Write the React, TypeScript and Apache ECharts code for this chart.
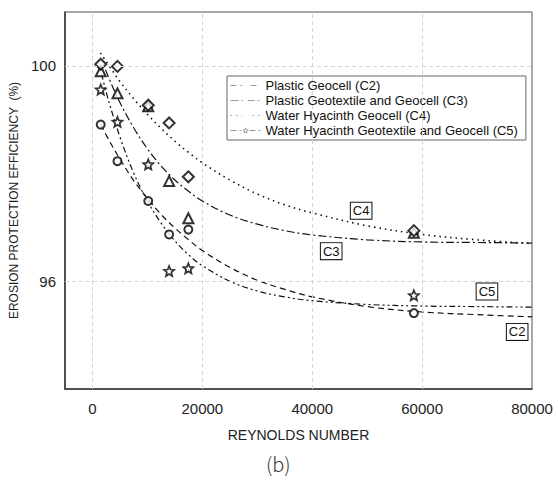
import React, { useEffect, useRef } from "react";
import * as echarts from "echarts";

// ---- data ----
const seriesNames = [
  "Plastic Geocell (C2)",
  "Plastic Geotextile and Geocell (C3)",
  "Water Hyacinth Geocell (C4)",
  "Water Hyacinth Geotextile and Geocell (C5)",
];
const curveLabels = ["C2", "C3", "C4", "C5"];

// measured points
const pointX = [1500, 4550, 10150, 13950, 17450, 58500];
const c2Points = [98.91, 98.23, 97.49, 96.87, 96.96, 95.41];
const c3Points = [99.9, 99.49, 99.25, 97.86, 97.17, 96.9];
const c4Points = [100.03, 99.99, 99.27, 98.94, 97.94, 96.94];
const c5Points = [99.56, 98.96, 98.17, 96.19, 96.24, 95.74];

// fitted trend curves
const c2Curve = [
  [1500, 98.91], [3000, 98.62], [5000, 98.27], [7500, 97.87], [10000, 97.54],
  [12500, 97.24], [15000, 96.99], [17500, 96.77], [20000, 96.57], [25000, 96.26],
  [30000, 96.02], [35000, 95.85], [40000, 95.71], [50000, 95.53], [60000, 95.43],
  [70000, 95.38], [80000, 95.34],
];
const c3Curve = [
  [2360, 99.93], [3500, 99.65], [5000, 99.32], [7500, 98.85], [10000, 98.46],
  [12500, 98.14], [15000, 97.88], [17500, 97.67], [20000, 97.49], [25000, 97.23],
  [30000, 97.06], [35000, 96.94], [40000, 96.86], [50000, 96.77], [60000, 96.73],
  [70000, 96.72], [80000, 96.71],
];
const c4Curve = [
  [1450, 100.24], [3500, 99.93], [5000, 99.71], [7500, 99.39], [10000, 99.1],
  [12500, 98.84], [15000, 98.6], [17500, 98.39], [20000, 98.2], [25000, 97.88],
  [30000, 97.62], [35000, 97.42], [40000, 97.27], [50000, 97.03], [60000, 96.87],
  [70000, 96.77], [80000, 96.7],
];
const c5Curve = [
  [1640, 99.85], [3000, 99.33], [5000, 98.68], [7500, 98.01], [10000, 97.49],
  [12500, 97.08], [15000, 96.75], [17500, 96.49], [20000, 96.29], [25000, 96.0],
  [30000, 95.82], [35000, 95.71], [40000, 95.64], [50000, 95.57], [60000, 95.54],
  [70000, 95.53], [80000, 95.52],
];
// label anchor positions (data coords)
const labelPos = [
  [77300, 95.06],
  [43450, 96.56],
  [48900, 97.31],
  [71800, 95.81],
];
const xTickLabels = [0, 20000, 40000, 60000, 80000];
const yTickLabels = [96, 100];
const xGridValues = [0, 20000, 40000, 60000];

const STAR =
  "path://M10 0 L12.64 6.36 L19.51 6.91 L14.28 11.39 L15.88 18.09 L10 14.5 L4.12 18.09 L5.72 11.39 L0.49 6.91 L7.36 6.36 Z";

export default function App() {
  const ref = useRef<HTMLDivElement>(null);
  useEffect(() => {
    if (!ref.current) return;
    const chart = echarts.init(ref.current, undefined, { renderer: "svg" });
    const font = "'Liberation Sans', Arial, sans-serif";
    const pointsAll = [c2Points, c3Points, c4Points, c5Points];
    const curvesAll = [c2Curve, c3Curve, c4Curve, c5Curve];
    const dashTypes: any[] = [
      [6, 4],
      [8, 3, 2, 3],
      [1.5, 4],
      [6, 3, 2, 3, 2, 3],
    ];
    const symbols = ["emptyCircle", "emptyTriangle", "emptyDiamond", STAR];
    const symbolSizes = [8, 10, 11, 10];

    const series: any[] = [];
    curvesAll.forEach((curve, i) => {
      const s: any = {
        name: seriesNames[i],
        type: "line",
        data: curve,
        smooth: 0.35,
        showSymbol: false,
        symbol: symbols[i],
        symbolSize: 6,
        itemStyle: { color: "#fff", borderColor: "#888", borderWidth: 1 },
        lineStyle: { color: "#111", width: i === 2 ? 1.6 : 1.2, type: dashTypes[i] },
        z: 2,
        markPoint: {
          silent: true,
          symbol: "rect",
          symbolSize: 1,
          itemStyle: { color: "rgba(0,0,0,0)", borderWidth: 0 },
          label: {
            show: true,
            position: "inside",
            formatter: curveLabels[i],
            color: "#111",
            fontFamily: font,
            fontSize: 13,
            backgroundColor: "#fff",
            borderColor: "#111",
            borderWidth: 1,
            padding: [2, 2, 1, 2],
          },
          data: [{ coord: labelPos[i] }],
        },
      };
      if (i === 0) {
        s.markLine = {
          silent: true,
          symbol: ["none", "none"],
          label: { show: false },
          lineStyle: { color: "#d4d4d4", type: [4, 3], width: 1 },
          data: [
            ...xGridValues.map((v) => ({ xAxis: v })),
            ...yTickLabels.map((v) => ({ yAxis: v })),
          ],
        };
      }
      series.push(s);
    });
    pointsAll.forEach((pts, i) => {
      series.push({
        name: seriesNames[i],
        type: "scatter",
        data: pts.map((y, k) => [pointX[k], y]),
        symbol: symbols[i],
        symbolSize: symbolSizes[i],
        itemStyle:
          i === 3
            ? { color: "#fff", borderColor: "#000", borderWidth: 1.7 }
            : { color: "#000", borderWidth: 1.1 },
        z: 3,
      });
    });

    chart.setOption({
      animation: false,
      backgroundColor: "#fff",
      textStyle: { fontFamily: font },
      grid: {
        left: 65,
        right: 26,
        top: 12,
        bottom: 91,
        show: true,
        borderColor: "#555",
        borderWidth: 1,
        containLabel: false,
      },
      legend: {
        data: seriesNames,
        orient: "vertical",
        left: 227,
        top: 76,
        itemWidth: 30,
        itemHeight: 6,
        itemGap: 2,
        padding: [3, 8, 3, 3],
        borderColor: "#666",
        borderWidth: 1,
        backgroundColor: "#fff",
        itemStyle: { color: "#fff", borderColor: "#999", borderWidth: 1 },
        lineStyle: { color: "#999", width: 1 },
        textStyle: { fontSize: 13, color: "#111", fontFamily: font },
        selectedMode: false,
      },
      xAxis: {
        type: "value",
        min: -5000,
        max: 80000,
        interval: 5000,
        name: "REYNOLDS NUMBER",
        nameLocation: "middle",
        nameGap: 39,
        nameTextStyle: { fontSize: 14, color: "#222", fontFamily: font },
        axisLine: { show: true, onZero: false, lineStyle: { color: "#333", width: 1.5 } },
        axisTick: { show: false },
        splitLine: { show: false },
        axisLabel: {
          fontSize: 15,
          color: "#222",
          margin: 12,
          formatter: (v: number) => (xTickLabels.includes(v) ? String(v) : ""),
        },
      },
      yAxis: {
        type: "value",
        min: 94,
        max: 101,
        interval: 1,
        name: "EROSION PROTECTION EFFICIENCY  (%)",
        nameLocation: "middle",
        nameGap: 40,
        nameTextStyle: { fontSize: 12, color: "#222", fontFamily: font },
        axisLine: { show: true, onZero: false, lineStyle: { color: "#333", width: 1.5 } },
        axisTick: { show: false },
        splitLine: { show: false },
        axisLabel: {
          fontSize: 15,
          color: "#222",
          margin: 9,
          formatter: (v: number) => (yTickLabels.includes(v) ? String(v) : ""),
        },
      },
      graphic: [
        {
          type: "text",
          left: 266,
          top: 453,
          style: {
            text: "(b)",
            fontSize: 20,
            fontWeight: 300,
            fill: "#333",
            fontFamily: "'Noto Sans CJK SC', sans-serif",
          },
        },
      ],
      series,
    });
    return () => chart.dispose();
  }, []);
  return (
    <div
      ref={ref}
      style={{ position: "fixed", left: 0, top: 0, width: 558, height: 480 }}
    />
  );
}
